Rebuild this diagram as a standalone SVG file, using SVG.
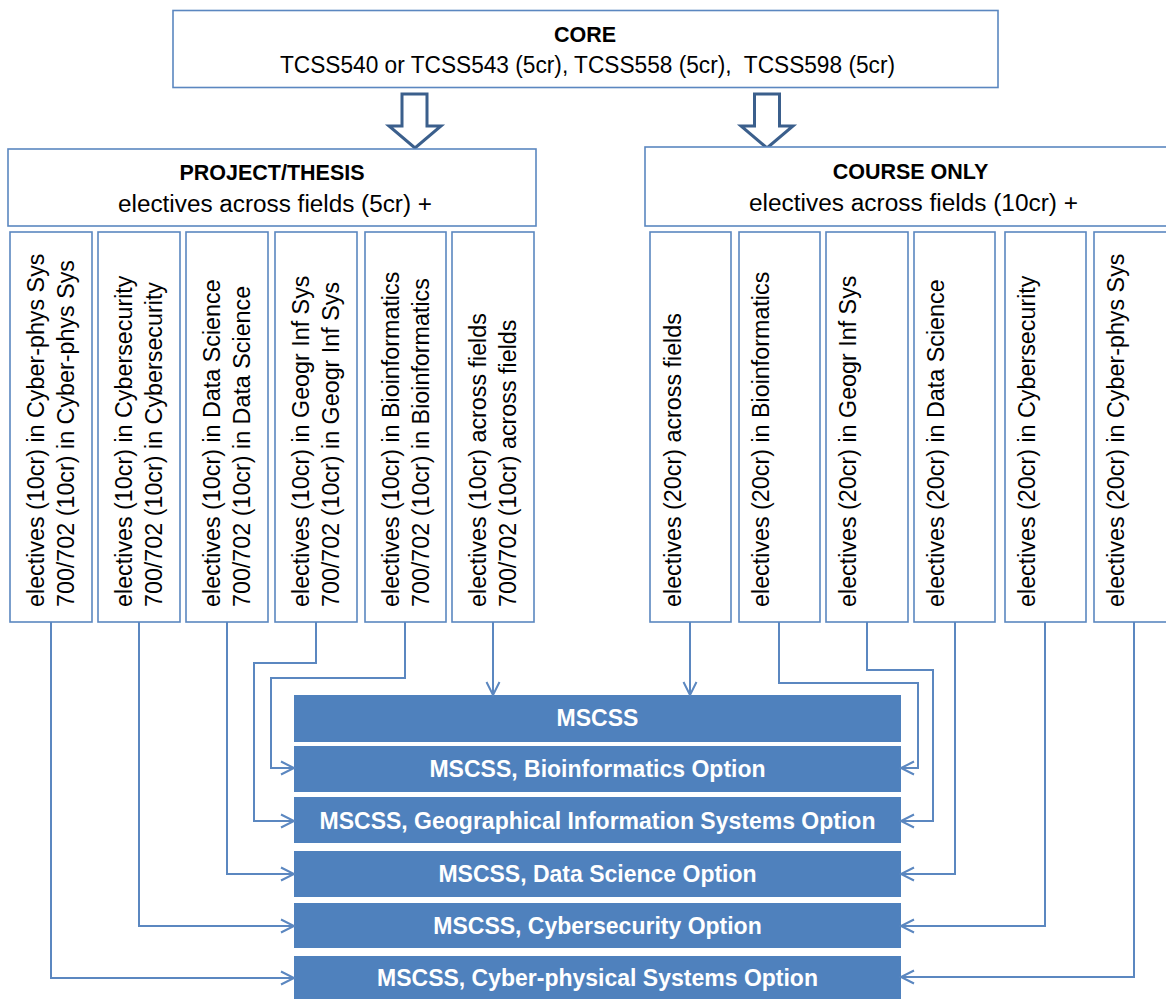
<svg xmlns="http://www.w3.org/2000/svg" width="1166" height="999" viewBox="0 0 1166 999">
<style>
.box{fill:#fff;stroke:#5B87C0;stroke-width:1.6}
.col{fill:#fff;stroke:#5B87C0;stroke-width:1.6}
.big{fill:#fff;stroke:#3B5F8C;stroke-width:3;stroke-linejoin:miter}
.out{fill:#4F81BD;stroke:none}
.hd{font-family:"Liberation Sans",Arial,sans-serif;font-weight:bold;font-size:21.5px;fill:#000;text-anchor:middle}
.tx{font-family:"Liberation Sans",Arial,sans-serif;font-size:23px;fill:#000;text-anchor:middle}
.vt{font-family:"Liberation Sans",Arial,sans-serif;font-size:23.3px;fill:#000}
.ot{font-family:"Liberation Sans",Arial,sans-serif;font-weight:bold;font-size:23px;fill:#fff;text-anchor:middle}
.cn{fill:none;stroke:#5B87C0;stroke-width:2;marker-end:url(#ah)}
</style>
<defs>
<marker id="ah" markerUnits="userSpaceOnUse" viewBox="0 0 16 16" refX="14" refY="8" markerWidth="16" markerHeight="16" orient="auto" overflow="visible">
<path d="M1,1.5 L14,8 L1,14.5" fill="none" stroke="#5B87C0" stroke-width="2"/>
</marker>
</defs>

<g id="core">
<rect class="box" x="173" y="10.5" width="825" height="77"/>
<text class="hd" x="585" y="42">CORE</text>
<text class="tx" x="587.5" y="73" xml:space="preserve" textLength="615" lengthAdjust="spacingAndGlyphs">TCSS540 or TCSS543 (5cr), TCSS558 (5cr),  TCSS598 (5cr)</text>
</g>

<g id="arrow-left">
<polygon class="big" points="402,94 427,94 427,126 441,126 415,148 389,126 402,126"/>
</g>
<g id="arrow-right">
<polygon class="big" points="754.5,94 779.5,94 779.5,126 793,126 767,148 741,126 754.5,126"/>
</g>

<g id="project-thesis">
<rect class="box" x="8" y="149" width="528" height="77"/>
<text class="hd" x="272" y="180">PROJECT/THESIS</text>
<text class="tx" x="275" y="212" textLength="314" lengthAdjust="spacingAndGlyphs">electives across fields (5cr) +</text>
</g>

<g id="course-only">
<rect class="box" x="645" y="147" width="540" height="79"/>
<text class="hd" x="910.5" y="179">COURSE ONLY</text>
<text class="tx" x="913.5" y="211" textLength="329" lengthAdjust="spacingAndGlyphs">electives across fields (10cr) +</text>
</g>

<g id="pt-cps">
<rect class="col" x="10" y="232" width="82" height="390"/>
<text class="vt" transform="translate(44,607) rotate(-90)">electives (10cr) in Cyber-phys Sys</text>
<text class="vt" transform="translate(74,607) rotate(-90)">700/702 (10cr) in Cyber-phys Sys</text>
</g>
<g id="pt-cyber">
<rect class="col" x="98" y="232" width="82" height="390"/>
<text class="vt" transform="translate(132,607) rotate(-90)">electives (10cr) in Cybersecurity</text>
<text class="vt" transform="translate(162,607) rotate(-90)">700/702 (10cr) in Cybersecurity</text>
</g>
<g id="pt-ds">
<rect class="col" x="186" y="232" width="82" height="390"/>
<text class="vt" transform="translate(220,607) rotate(-90)">electives (10cr) in Data Science</text>
<text class="vt" transform="translate(250,607) rotate(-90)">700/702 (10cr) in Data Science</text>
</g>
<g id="pt-gis">
<rect class="col" x="275" y="232" width="82" height="390"/>
<text class="vt" transform="translate(309,607) rotate(-90)">electives (10cr) in Geogr Inf Sys</text>
<text class="vt" transform="translate(339,607) rotate(-90)">700/702 (10cr) in Geogr Inf Sys</text>
</g>
<g id="pt-bio">
<rect class="col" x="365" y="232" width="81" height="390"/>
<text class="vt" transform="translate(399,607) rotate(-90)">electives (10cr) in Bioinformatics</text>
<text class="vt" transform="translate(429,607) rotate(-90)">700/702 (10cr) in Bioinformatics</text>
</g>
<g id="pt-across">
<rect class="col" x="452" y="232" width="82" height="390"/>
<text class="vt" transform="translate(486,607) rotate(-90)">electives (10cr) across fields</text>
<text class="vt" transform="translate(516,607) rotate(-90)">700/702 (10cr) across fields</text>
</g>

<g id="co-across">
<rect class="col" x="650" y="232" width="81" height="390"/>
<text class="vt" transform="translate(681,607) rotate(-90)">electives (20cr) across fields</text>
</g>
<g id="co-bio">
<rect class="col" x="739" y="232" width="81" height="390"/>
<text class="vt" transform="translate(769,607) rotate(-90)">electives (20cr) in Bioinformatics</text>
</g>
<g id="co-gis">
<rect class="col" x="826" y="232" width="82" height="390"/>
<text class="vt" transform="translate(856,607) rotate(-90)">electives (20cr) in Geogr Inf Sys</text>
</g>
<g id="co-ds">
<rect class="col" x="914" y="232" width="81" height="390"/>
<text class="vt" transform="translate(944,607) rotate(-90)">electives (20cr) in Data Science</text>
</g>
<g id="co-cyber">
<rect class="col" x="1005" y="232" width="81" height="390"/>
<text class="vt" transform="translate(1035,607) rotate(-90)">electives (20cr) in Cybersecurity</text>
</g>
<g id="co-cps">
<rect class="col" x="1094" y="232" width="81" height="390"/>
<text class="vt" transform="translate(1124,607) rotate(-90)">electives (20cr) in Cyber-phys Sys</text>
</g>

<g id="mscss">
<rect class="out" x="294" y="695" width="607" height="47"/>
<text class="ot" x="597.5" y="726">MSCSS</text>
</g>
<g id="mscss-bio">
<rect class="out" x="294" y="746" width="607" height="46"/>
<text class="ot" x="597.5" y="777">MSCSS, Bioinformatics Option</text>
</g>
<g id="mscss-gis">
<rect class="out" x="294" y="797" width="607" height="46"/>
<text class="ot" x="597.5" y="829">MSCSS, Geographical Information Systems Option</text>
</g>
<g id="mscss-ds">
<rect class="out" x="294" y="851" width="607" height="46"/>
<text class="ot" x="597.5" y="882">MSCSS, Data Science Option</text>
</g>
<g id="mscss-cyber">
<rect class="out" x="294" y="903" width="607" height="45"/>
<text class="ot" x="597.5" y="934">MSCSS, Cybersecurity Option</text>
</g>
<g id="mscss-cps">
<rect class="out" x="294" y="956" width="607" height="50"/>
<text class="ot" x="597.5" y="986">MSCSS, Cyber-physical Systems Option</text>
</g>

<g id="connectors">
<path class="cn" d="M51,622 V978 H294"/>
<path class="cn" d="M139,622 V926 H294"/>
<path class="cn" d="M227,622 V874 H294"/>
<path class="cn" d="M316,622 V663 H254 V821 H294"/>
<path class="cn" d="M405,622 V678 H271 V768 H294"/>
<path class="cn" d="M493,622 V695"/>
<path class="cn" d="M690,622 V695"/>
<path class="cn" d="M779,622 V683 H918 V768 H901"/>
<path class="cn" d="M867,622 V670 H933 V821 H901"/>
<path class="cn" d="M955,622 V874 H901"/>
<path class="cn" d="M1045,622 V926 H901"/>
<path class="cn" d="M1134,622 V977 H901"/>
</g>
</svg>
